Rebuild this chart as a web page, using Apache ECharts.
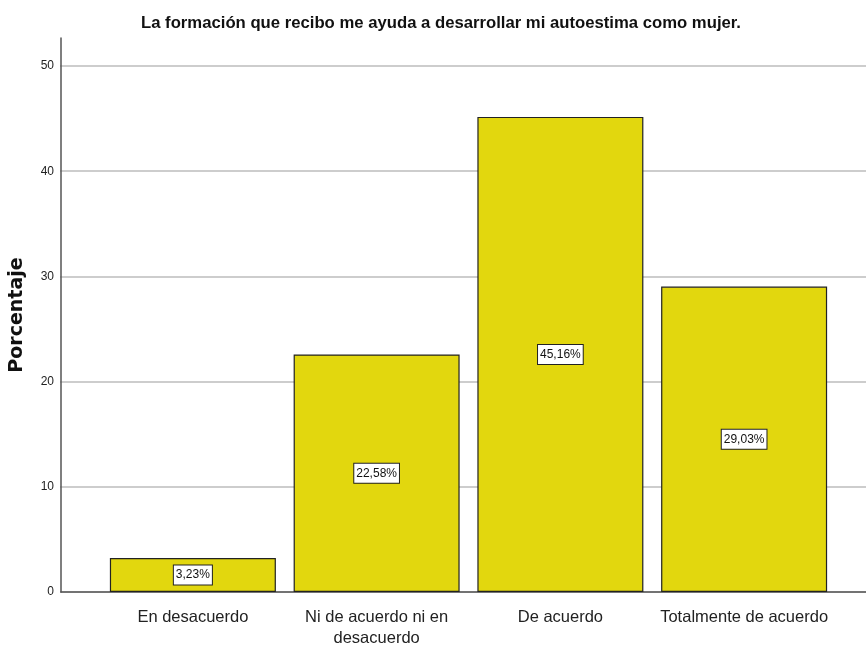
<!DOCTYPE html>
<html>
<head>
<meta charset="utf-8">
<script src="https://cdn.jsdelivr.net/npm/echarts@6/dist/echarts.min.js"></script>
<style>
  html, body { margin: 0; padding: 0; background: #fff; }
  #chart { width: 866px; height: 651px; }
</style>
</head>
<body>
<div id="chart"></div>
<script>
const categories = ['En desacuerdo', 'Ni de acuerdo ni en\ndesacuerdo', 'De acuerdo', 'Totalmente de acuerdo'];
const percentages = [3.23, 22.58, 45.16, 29.03];
const yTicks = [0, 10, 20, 30, 40, 50];

const chart = echarts.init(document.getElementById('chart'));

const sans = "'Liberation Sans', Arial, sans-serif";
const axisColor = '#555';

chart.setOption({
  backgroundColor: '#fff',
  animation: false,
  title: {
    text: 'La formación que recibo me ayuda a desarrollar mi autoestima como mujer.',
    left: 436,
    textAlign: 'center',
    top: 10,
    textStyle: { fontFamily: sans, fontWeight: 'bold', fontSize: 16.7, color: '#111' }
  },
  grid: [
    // frame (axis lines)
    { left: 60, right: 0, top: 38, bottom: 59 },
    // gridlines + y labels
    { left: 60, right: 0, top: 66, bottom: 59 },
    // bars
    { left: 101, right: 30, top: 66, bottom: 59 }
  ],
  xAxis: [
    { gridIndex: 0, type: 'value', min: 0, max: 1,
      axisLine: { show: true, lineStyle: { color: axisColor, width: 1.5 } },
      axisTick: { show: false }, axisLabel: { show: false }, splitLine: { show: false } },
    { gridIndex: 1, type: 'value', min: 0, max: 1, show: false },
    { gridIndex: 2, type: 'category', data: categories,
      axisLine: { show: false }, axisTick: { show: false },
      axisLabel: { interval: 0, fontFamily: sans, fontSize: 16.5, color: '#222', margin: 15, lineHeight: 21 } }
  ],
  yAxis: [
    { gridIndex: 0, type: 'value', min: 0, max: 52.66,
      axisLine: { show: true, lineStyle: { color: axisColor, width: 1.5 } },
      axisTick: { show: false }, axisLabel: { show: false }, splitLine: { show: false },
      name: 'Porcentaje', nameLocation: 'middle', nameGap: 34, nameRotate: 90,
      nameTextStyle: { fontFamily: "'DejaVu Sans', sans-serif", fontWeight: 'bold', fontSize: 19, color: '#111' } },
    { gridIndex: 1, type: 'value', min: yTicks[0], max: yTicks[yTicks.length - 1], interval: 10,
      axisLine: { show: false }, axisTick: { show: false },
      axisLabel: { fontFamily: sans, fontSize: 12, color: '#222', margin: 6 },
      splitLine: { lineStyle: { color: '#bdbdbd', width: 1.5 } } },
    { gridIndex: 2, type: 'value', min: 0, max: 50, show: false }
  ],
  series: [{
    type: 'bar',
    xAxisIndex: 2,
    yAxisIndex: 2,
    data: percentages,
    barWidth: 166,
    itemStyle: { color: '#e2d70e', borderColor: '#222', borderWidth: 1.2 },
    label: {
      show: true,
      position: 'inside',
      formatter: p => p.value.toFixed(2).replace('.', ',') + '%',
      fontFamily: sans, fontSize: 12, color: '#111',
      backgroundColor: '#fff', borderColor: '#222', borderWidth: 1,
      padding: [4, 2, 3, 2]
    }
  }]
});
</script>
</body>
</html>
